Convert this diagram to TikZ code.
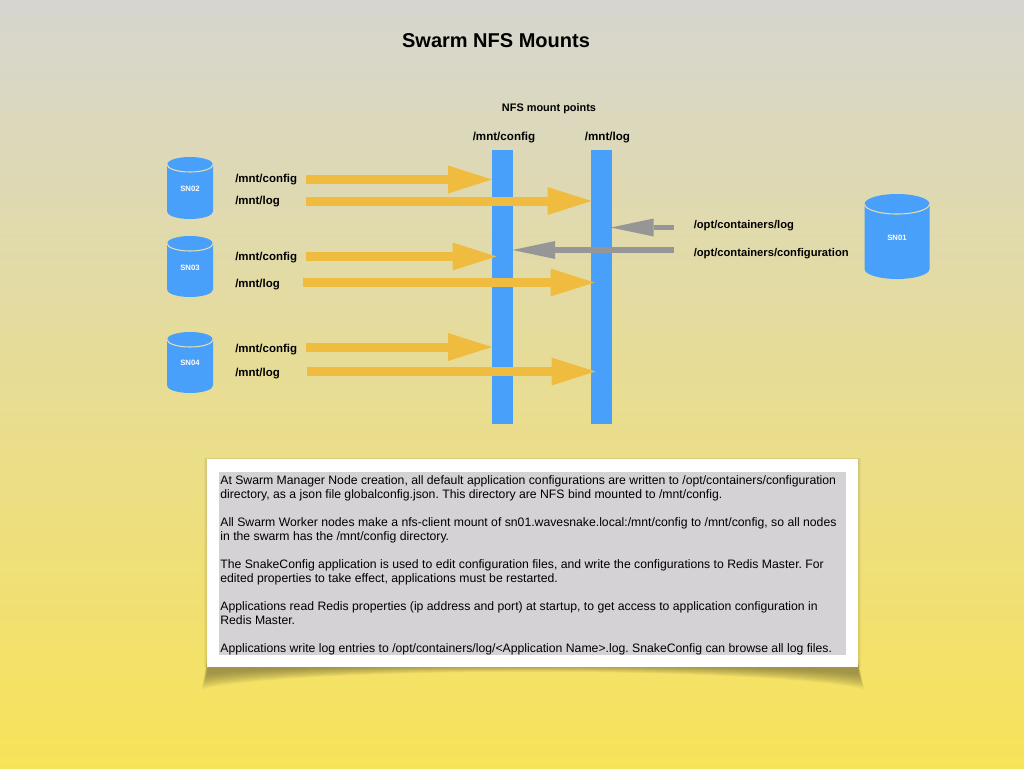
\documentclass[tikz,border=0pt]{standalone}
\usepackage{fontspec}
\setmainfont{Liberation Sans}
\usetikzlibrary{arrows.meta}
\definecolor{bartblue}{RGB}{72,160,250}
\definecolor{arroworange}{RGB}{240,188,64}
\definecolor{arrowgray}{RGB}{150,150,150}
\definecolor{cylrim}{RGB}{226,222,176}
\definecolor{notegray}{RGB}{212,210,212}
\definecolor{bgtop}{RGB}{214,214,208}
\definecolor{bgbottom}{RGB}{248,227,88}
\definecolor{shadowcol}{RGB}{70,66,40}
\tikzset{
  x=0.75pt,y=-0.75pt,
  title/.style={font=\fontsize{15}{18}\selectfont\bfseries,inner sep=0pt},
  head/.style={font=\fontsize{8.2}{10}\selectfont\bfseries,inner sep=0pt},
  headb/.style={font=\fontsize{8.7}{10}\selectfont\bfseries,inner sep=0pt},
  lab/.style={font=\fontsize{8.6}{10}\selectfont\bfseries,inner sep=0pt,anchor=west},
  labr/.style={font=\fontsize{8.4}{10}\selectfont\bfseries,inner sep=0pt,anchor=west},
  mount/.style={fill=bartblue,draw=none,inner sep=0pt,minimum width=15.75pt,minimum height=205.5pt},
  orangearrow/.style={draw=arroworange,line width=6.75pt,
    -{Triangle[length=33pt,width=21pt,line width=0pt,fill=arroworange]}},
  grayarrow/.style={draw=arrowgray,line width=4.2pt,
    -{Triangle[length=32pt,width=13.5pt,line width=0pt,fill=arrowgray]}},
  dblab/.style={font=\fontsize{5.8}{7}\selectfont\bfseries,text=white,inner sep=0pt},
}
\newcommand{\dbcyl}[8]{% name, cx, top, bottom, rx, ry, text, text y
  \fill[bartblue] (#2-#5,#3+#6) arc[start angle=180,end angle=0,x radius={#5*0.75pt},y radius={#6*0.75pt}]
    -- (#2+#5,#4-#6) arc[start angle=0,end angle=-180,x radius={#5*0.75pt},y radius={#6*0.75pt}] -- cycle;
  \draw[cylrim,line width=0.8pt] (#2-#5,#3+#6) arc[start angle=180,end angle=360,x radius={#5*0.75pt},y radius={#6*0.75pt}];
  \node[dblab] (#1) at (#2,#8) {#7};
}
\begin{document}
\begin{tikzpicture}
\useasboundingbox (0,0) rectangle (1024,768);
\shade[top color=bgtop,bottom color=bgbottom] (0,0) rectangle (1024,768);

\node[title] (maintitle) at (496,41) {Swarm NFS Mounts};
\node[head] (nfshead) at (549,109) {NFS mount points};
\node[headb] (cfghead) at (504,138) {/mnt/config};
\node[headb] (loghead) at (607.5,138) {/mnt/log};

\node[mount] (cfgbar) at (502.5,287) {};
\node[mount] (logbar) at (601.5,287) {};

\dbcyl{sn02}{190}{157}{219}{23}{7.5}{SN02}{188.5}
\dbcyl{sn03}{190}{236}{297}{23}{7.5}{SN03}{267.5}
\dbcyl{sn04}{190}{332}{393}{23}{7.5}{SN04}{362.5}
\dbcyl{sn01}{897}{194}{279}{32.5}{10}{SN01}{237.5}

\node[lab] (l1) at (235,180) {/mnt/config};
\node[lab] (l2) at (235,202) {/mnt/log};
\node[lab] (l3) at (235,258) {/mnt/config};
\node[lab] (l4) at (235,285) {/mnt/log};
\node[lab] (l5) at (235,350) {/mnt/config};
\node[lab] (l6) at (235,374) {/mnt/log};
\node[labr] (r1) at (693.5,225.5) {/opt/containers/log};
\node[labr] (r2) at (693.5,254) {/opt/containers/configuration};

\coordinate (s1) at (306,179.5); \coordinate (e1) at (492,179.5);
\coordinate (s2) at (306,201);   \coordinate (e2) at (591.5,201);
\coordinate (s3) at (306,256.5); \coordinate (e3) at (496.5,256.5);
\coordinate (s4) at (303,282.5); \coordinate (e4) at (594.5,282.5);
\coordinate (s5) at (306,347);   \coordinate (e5) at (492,347);
\coordinate (s6) at (307,371.5); \coordinate (e6) at (595.5,371.5);
\coordinate (s7) at (674,227.5); \coordinate (e7) at (611,227.5);
\coordinate (s8) at (674,250);   \coordinate (e8) at (512.5,250);
\foreach \n in {1,...,6} \draw[orangearrow] (s\n) -- (e\n);
\draw[grayarrow] (s7) -- (e7);
\draw[grayarrow] (s8) -- (e8);

% curved drop shadow
\foreach \d in {0,1,...,9}{
  \fill[shadowcol,opacity=0.06]
    (207+0.1*\d,660) -- (202+0.6*\d,689-1.6*\d)
    .. controls (300,666-0.4*\d) and (760,666-0.4*\d) .. (864-0.6*\d,689-1.6*\d)
    -- (858-0.1*\d,660) -- cycle;
}
\foreach \d in {3,2,1}{
  \fill[shadowcol,opacity=0.05] (206.7-\d,459-0.5*\d) rectangle (858+\d,667);
}
\fill[white] (206.7,459) rectangle (858,667);
\coordinate (notec) at (532.5,563.5);
\node[fill=notegray,inner sep=0pt,minimum width=470.25pt,minimum height=137.25pt,
  font=\fontsize{9.17}{10.5}\selectfont] (notes) at (notec) {%
  \begin{minipage}[c][137.25pt][c]{469.2pt}\frenchspacing\raggedright\vspace{2.2pt}
  \hspace*{0.5pt}At Swarm Manager Node creation, all default application configurations are written to /opt/containers/configuration\\
  \hspace*{0.5pt}directory, as a json file globalconfig.json. This directory are NFS bind mounted to /mnt/config.\\[10.5pt]
  \hspace*{0.5pt}All Swarm Worker nodes make a nfs-client mount of sn01.wavesnake.local:/mnt/config to /mnt/config, so all nodes\\
  \hspace*{0.5pt}in the swarm has the /mnt/config directory.\\[10.5pt]
  \hspace*{0.5pt}The SnakeConfig application is used to edit configuration files, and write the configurations to Redis Master. For\\
  \hspace*{0.5pt}edited properties to take effect, applications must be restarted.\\[10.5pt]
  \hspace*{0.5pt}Applications read Redis properties (ip address and port) at startup, to get access to application configuration in\\
  \hspace*{0.5pt}Redis Master.\\[10.5pt]
  \hspace*{0.5pt}Applications write log entries to /opt/containers/log/<Application Name>.log. SnakeConfig can browse all log files.
  \end{minipage}};
\end{tikzpicture}
\end{document}
